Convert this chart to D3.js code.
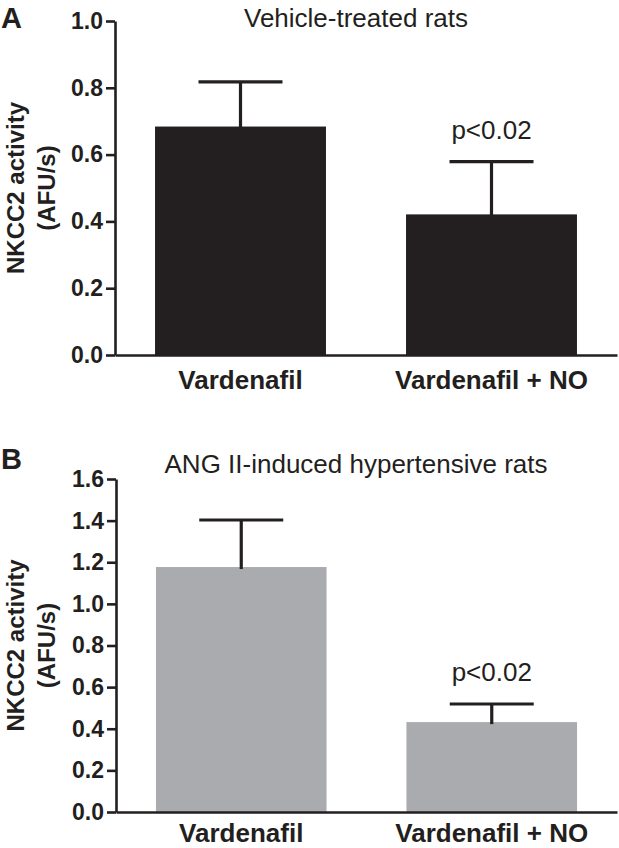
<!DOCTYPE html>
<html>
<head>
<meta charset="utf-8">
<script src="https://cdn.jsdelivr.net/npm/d3@7"></script>
<style>
  html, body { margin: 0; padding: 0; background: #fff; }
  svg { display: block; font-family: "Liberation Sans", Arial, Helvetica, sans-serif; }
</style>
</head>
<body>
<svg id="chart" width="619" height="848"></svg>
<script>
// ---- data ----
const categories = ["Vardenafil", "Vardenafil + NO"];
const vehicleMeans = [0.684, 0.421];
const vehicleErrors = [0.134, 0.158];
const angMeans = [1.177, 0.432];
const angErrors = [0.226, 0.087];
const vehicleTicks = [0, 0.2, 0.4, 0.6, 0.8, 1.0];
const angTicks = [0, 0.2, 0.4, 0.6, 0.8, 1.0, 1.2, 1.4, 1.6];
const pLabels = ["", "p<0.02"];
const titles = ["Vehicle-treated rats", "ANG II-induced hypertensive rats"];
const panelLetters = ["A", "B"];
const yLabelLines = ["NKCC2 activity", "(AFU/s)"];

const ink = "#231f20";
const svg = d3.select("#chart");

const panels = [
  { letter: panelLetters[0], title: titles[0], means: vehicleMeans, errors: vehicleErrors,
    ticks: vehicleTicks, yMax: 1.0, yBottom: 355, yTop: 21, fill: "#231f20",
    titleY: 27, letterY: 28, xLabelY: 389, xLeft: 115 },
  { letter: panelLetters[1], title: titles[1], means: angMeans, errors: angErrors,
    ticks: angTicks, yMax: 1.6, yBottom: 812, yTop: 479, fill: "#aaabae",
    titleY: 473, letterY: 469, xLabelY: 842, xLeft: 116 }
];

panels.forEach(p => {
  const g = svg.append("g");
  const x = d3.scaleBand().domain(categories).range([p.xLeft, 617])
    .paddingInner(0.319).paddingOuter(0.1595);
  const y = d3.scaleLinear().domain([0, p.yMax]).range([p.yBottom, p.yTop]);

  // bars
  g.selectAll("rect.bar").data(categories).join("rect")
    .attr("class", "bar")
    .attr("x", d => x(d))
    .attr("width", x.bandwidth())
    .attr("y", (d, i) => y(p.means[i]))
    .attr("height", (d, i) => y(0) - y(p.means[i]))
    .attr("fill", p.fill);

  // error bars
  const capW = 84;
  categories.forEach((c, i) => {
    const cx = x(c) + x.bandwidth() / 2;
    g.append("line")
      .attr("x1", cx).attr("x2", cx)
      .attr("y1", y(p.means[i]) + 2).attr("y2", y(p.means[i] + p.errors[i]))
      .attr("stroke", ink).attr("stroke-width", 3.2);
    g.append("line")
      .attr("x1", cx - capW / 2).attr("x2", cx + capW / 2)
      .attr("y1", y(p.means[i] + p.errors[i])).attr("y2", y(p.means[i] + p.errors[i]))
      .attr("stroke", ink).attr("stroke-width", 3.2);
    if (pLabels[i]) {
      g.append("text")
        .attr("x", cx)
        .attr("y", y(p.means[i] + p.errors[i]) - 23)
        .attr("text-anchor", "middle")
        .attr("font-size", 26)
        .attr("fill", ink)
        .text(pLabels[i]);
    }
  });

  // y axis
  const yAxis = g.append("g")
    .attr("transform", `translate(${p.xLeft},0)`)
    .call(d3.axisLeft(y).tickValues(p.ticks).tickFormat(d3.format(".1f"))
      .tickSize(9).tickSizeOuter(0).tickPadding(3));
  yAxis.select(".domain").attr("stroke", ink).attr("stroke-width", 2.6);
  yAxis.selectAll(".tick line").attr("stroke", ink).attr("stroke-width", 2.6);
  yAxis.selectAll(".tick text")
    .attr("font-size", 23).attr("font-weight", "bold").attr("fill", ink)
    .attr("font-family", "'Liberation Sans', Arial, sans-serif");

  // x axis
  const xAxis = g.append("g")
    .attr("transform", `translate(0,${p.yBottom})`)
    .call(d3.axisBottom(x).tickSize(0).tickSizeOuter(0).tickPadding(0));
  xAxis.select(".domain").attr("stroke", ink).attr("stroke-width", 2.6);
  xAxis.selectAll(".tick text")
    .attr("font-size", 26).attr("font-weight", "bold").attr("fill", ink)
    .attr("font-family", "'Liberation Sans', Arial, sans-serif")
    .attr("dy", null)
    .attr("y", p.xLabelY - p.yBottom);

  // title
  g.append("text")
    .attr("x", 356).attr("y", p.titleY)
    .attr("text-anchor", "middle")
    .attr("font-size", 26).attr("fill", ink)
    .text(p.title);

  // panel letter
  g.append("text")
    .attr("x", 1).attr("y", p.letterY)
    .attr("font-size", 29).attr("font-weight", "bold").attr("fill", ink)
    .text(p.letter);

  // y label
  const cy = (p.yBottom + p.yTop) / 2;
  const yl = g.append("text")
    .attr("transform", `translate(0,${cy}) rotate(-90)`)
    .attr("text-anchor", "middle")
    .attr("font-size", 24).attr("font-weight", "bold").attr("fill", ink);
  yl.append("tspan").attr("x", 0).attr("y", 24).text(yLabelLines[0]);
  yl.append("tspan").attr("x", 0).attr("y", 55).text(yLabelLines[1]);
});
</script>
</body>
</html>
